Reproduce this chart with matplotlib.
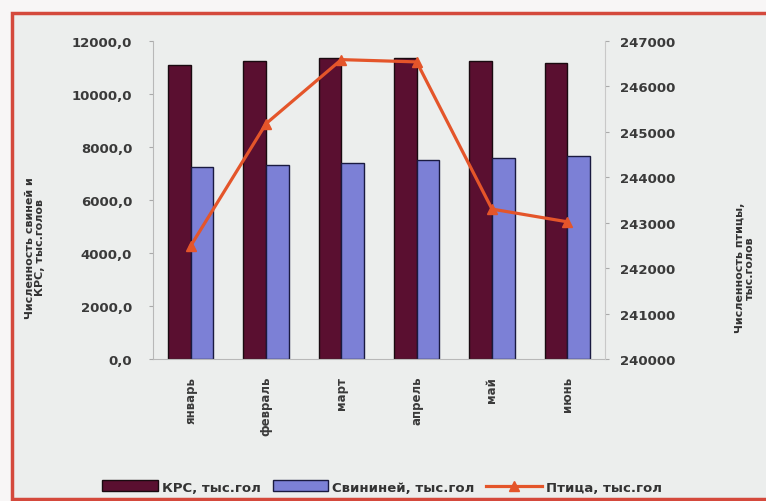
import matplotlib.pyplot as plt
import numpy as np
from matplotlib.patches import Rectangle
from matplotlib.lines import Line2D
from matplotlib.patches import Patch

plt.rcParams['font.family'] = ['DejaVu Sans']

months = ['январь', 'февраль', 'март', 'апрель', 'май', 'июнь']
krs = [11090, 11240, 11360, 11350, 11240, 11170]
pigs = [7240, 7320, 7390, 7510, 7580, 7660]
birds = [242490, 245180, 246590, 246540, 243300, 243020]

left_ticks = np.arange(0, 12001, 2000)
right_ticks = np.arange(240000, 247001, 1000)

fig = plt.figure(figsize=(7.66, 5.02), dpi=100)
fig.patch.set_facecolor('#f8f6f6')

# рамка вокруг диаграммы
frame = Rectangle((12 / 766, 1 - 500 / 502), 800 / 766, (500 - 14) / 502,
                  transform=fig.transFigure, facecolor='#eceeed',
                  edgecolor='#d4493c', linewidth=2.5, zorder=-10)
fig.patches.append(frame)

ax = fig.add_axes([153 / 766, 1 - 360 / 502, (605 - 153) / 766, (360 - 42) / 502])
ax.patch.set_visible(False)

x = np.arange(len(months))
w = 0.3
ax.bar(x - w / 2, krs, w, color='#5a0f30', edgecolor='#1a0a10', linewidth=1.0, zorder=2)
ax.bar(x + w / 2, pigs, w, color='#7c80d6', edgecolor='#1a1a40', linewidth=1.0, zorder=2)

ax.set_xlim(-0.5, len(months) - 0.5)
ax.set_ylim(0, 12000)
ax.set_yticks(left_ticks)
ax.set_yticklabels([f'{v:.1f}'.replace('.', ',') for v in left_ticks],
                   fontsize=9.5, fontweight='bold', color='#3a3a3a')
ax.set_xticks(x)
ax.set_xticklabels(months, rotation=90, fontsize=8.5, fontweight='bold', color='#3a3a3a')
ax.tick_params(axis='x', length=0, pad=12)
ax.tick_params(axis='y', length=3, color='#aaaaaa', pad=12)
for s in ['top', 'right']:
    ax.spines[s].set_visible(False)
for s in ['left', 'bottom']:
    ax.spines[s].set_color('#b8b8b8')

ax2 = ax.twinx()
ax2.plot(x, birds, color='#e4552a', linewidth=2.3, marker='^', markersize=7,
         markerfacecolor='#e4552a', markeredgecolor='#e4552a', zorder=3)
ax2.set_ylim(240000, 247000)
ax2.set_yticks(right_ticks)
ax2.set_yticklabels([str(v) for v in right_ticks], fontsize=9.5, fontweight='bold', color='#3a3a3a')
ax2.tick_params(axis='y', length=3, color='#aaaaaa', pad=8)
for s in ['top', 'left', 'bottom']:
    ax2.spines[s].set_visible(False)
ax2.spines['right'].set_color('#c8c8c8')

fig.text(35 / 766, 1 - 248 / 502, 'Численность свиней и\nКРС, тыс.голов', rotation=90,
         ha='center', va='center', fontsize=8, fontweight='bold', color='#333333',
         linespacing=0.95)
fig.text(745 / 766, 1 - 268 / 502, 'Численность птицы,\nтыс.голов', rotation=90,
         ha='center', va='center', fontsize=8, fontweight='bold', color='#333333',
         linespacing=0.95)

handles = [
    Patch(facecolor='#5a0f30', edgecolor='#1a0a10'),
    Patch(facecolor='#7c80d6', edgecolor='#1a1a40'),
    Line2D([], [], color='#e4552a', linewidth=2.3, marker='^', markersize=7),
]
leg = fig.legend(handles, ['КРС, тыс.гол', 'Свининей, тыс.гол', 'Птица, тыс.гол'],
                 loc='center', bbox_to_anchor=(382 / 766, 1 - 488 / 502), ncol=3,
                 frameon=False, handlelength=4.2, handleheight=0.9,
                 handletextpad=0.3, columnspacing=0.9,
                 prop={'weight': 'bold', 'size': 9.5})
for t in leg.get_texts():
    t.set_color('#333333')

fig.savefig('out.png', dpi=100, facecolor=fig.get_facecolor())
